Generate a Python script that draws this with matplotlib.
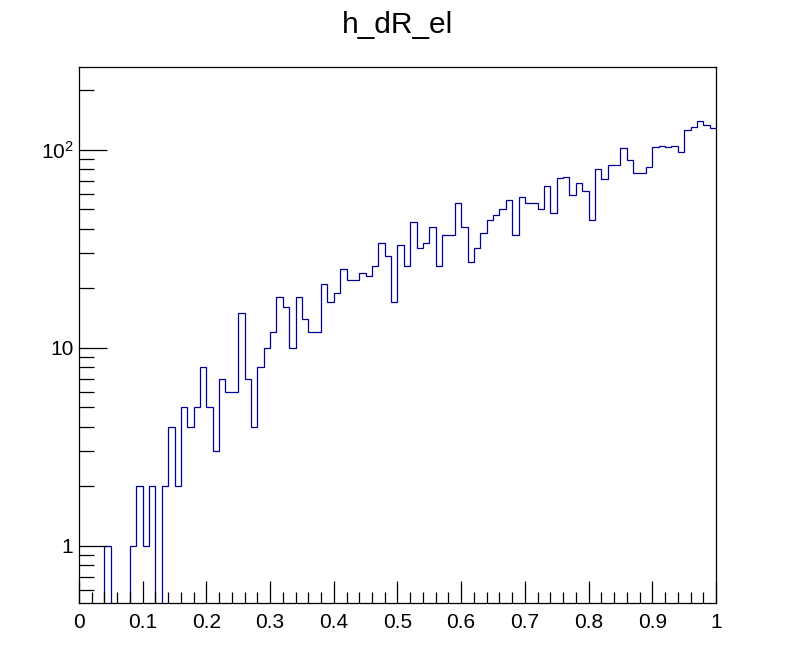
import matplotlib
matplotlib.use("Agg")
import matplotlib.pyplot as plt
import numpy as np
from matplotlib.ticker import FixedLocator, FuncFormatter, LogLocator, MultipleLocator, NullFormatter

plt.rcParams["font.family"] = ["Liberation Sans", "DejaVu Sans"]
plt.rcParams["mathtext.fontset"] = "custom"
plt.rcParams["mathtext.rm"] = "Liberation Sans"
plt.rcParams["mathtext.it"] = "Liberation Sans"

# h_dR_el: 100 bins on [0, 1]
bin_lo = 0.0
bin_hi = 1.0
n_bins = 100
counts = [
    0, 0, 0, 0, 1, 0, 0, 0, 1, 2,
    1, 2, 0, 2, 4, 2, 5, 4, 5, 8,
    5, 3, 7, 6, 6, 15, 7, 4, 8, 10,
    12, 18, 16, 10, 18, 14, 12, 12, 21, 17,
    19, 25, 22, 22, 24, 23, 26, 34, 29, 17,
    33, 26, 43, 32, 34, 41, 26, 37, 37, 54,
    41, 27, 32, 38, 44, 47, 50, 56, 37, 58,
    54, 54, 50, 66, 48, 72, 73, 59, 68, 62,
    44, 80, 71, 84, 84, 102, 89, 76, 76, 82,
    103, 105, 103, 105, 98, 126, 130, 140, 133, 129,
]
x_ticks = [0.0, 0.1, 0.2, 0.3, 0.4, 0.5, 0.6, 0.7, 0.8, 0.9, 1.0]
y_ticks = [1, 10, 100]
y_range = (0.515, 262)
title = "h_dR_el"

edges = np.linspace(bin_lo, bin_hi, n_bins + 1)
vals = np.array(counts, dtype=float)
# empty bins go below the frame, like ROOT drops them to the bottom
vals[vals <= 0] = 1e-3

fig = plt.figure(figsize=(7.96, 6.72), dpi=100)
ax = fig.add_axes([0.0992, 0.1027, 0.8003, 0.7976])

ax.stairs(vals, edges, baseline=None, color="#000099", lw=0.9)

ax.set_yscale("log")
ax.set_xlim(bin_lo, bin_hi)
ax.set_ylim(*y_range)

ax.xaxis.set_major_locator(FixedLocator(x_ticks))
ax.xaxis.set_minor_locator(MultipleLocator(0.02))
ax.xaxis.set_major_formatter(FuncFormatter(lambda v, p: "%g" % v))

ax.yaxis.set_major_locator(FixedLocator(y_ticks))
ax.yaxis.set_minor_locator(LogLocator(base=10, subs=np.arange(2, 10)))
ax.yaxis.set_minor_formatter(NullFormatter())


def ylab(v, p):
    if v >= 100:
        return r"$10^{%d}$" % round(np.log10(v))
    return "%g" % v


ax.yaxis.set_major_formatter(FuncFormatter(ylab))

ax.tick_params(axis="both", which="both", direction="in", top=False, right=False,
               labelsize=15, color="black", width=0.9)
ax.tick_params(axis="x", which="major", length=16, pad=7)
ax.tick_params(axis="x", which="minor", length=8)
ax.tick_params(axis="y", which="major", length=20, pad=4)
ax.tick_params(axis="y", which="minor", length=11)

for s in ax.spines.values():
    s.set_linewidth(0.9)
    s.set_color("black")

fig.text(0.5, 0.951, title, ha="center", va="baseline", fontsize=21.5)

fig.savefig("out.png", dpi=100)
